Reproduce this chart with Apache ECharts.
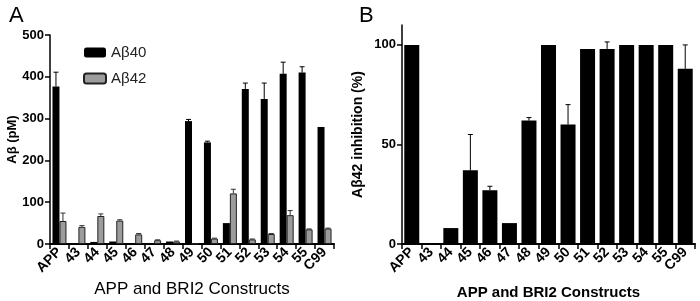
<!DOCTYPE html>
<html>
<head>
<meta charset="utf-8">
<script src="https://cdn.jsdelivr.net/npm/echarts@6/dist/echarts.min.js"></script>
<style>
	html, body { margin: 0; padding: 0; background: #fff; }
	#chart { width: 700px; height: 301px; }
</style>
</head>
<body>
<div id="chart"></div>
<script>
// 类别
const constructs = ['APP', '43', '44', '45', '46', '47', '48', '49', '50', '51', '52', '53', '54', '55', 'C99']
// 面板 A：Aβ40 / Aβ42 (pM) 及误差
const ab40 = [377, 1, 5, 6, 1, 0, 6, 294, 243, 50, 371, 347, 407, 410, 280]
const ab40Err = [34, 0, 0, 0, 0, 0, 0, 4, 3, 0, 14, 38, 28, 14, 0]
const ab42 = [55, 41, 67, 56, 23, 9, 6, 1, 13, 121, 11, 24, 69, 35, 37]
const ab42Err = [19, 3, 5, 2, 2, 1, 1, 0, 1, 10, 1, 1, 11, 1, 1]
// 面板 B：Aβ42 抑制率 (%)
const inhibition = [100, 0, 8, 37, 27, 10.5, 62, 100, 60, 98, 98, 100, 100, 100, 88]
const inhibitionErr = [0, 0, 0, 18, 2, 0, 1.5, 0, 10, 0, 3.5, 0, 0, 0, 12]
// 刻度
const ticksA = [0, 100, 200, 300, 400, 500]
const ticksB = [0, 50, 100]

const font = 'Liberation Sans, Arial, sans-serif'

function errData(vals, errs) {
	const out = []
	vals.forEach((v, i) => {
		if (errs[i] > 0) out.push([i, v, v + errs[i]])
	})
	return out
}

// 误差线（只画上半部分）
function errRenderer(offset, color) {
	return function (params, api) {
		const top = api.coord([api.value(0), api.value(2)])
		const base = api.coord([api.value(0), api.value(1)])
		const x = top[0] + offset
		return {
			type: 'group',
			children: [
				{ type: 'line', shape: { x1: x, y1: base[1], x2: x, y2: top[1] }, style: { stroke: color, lineWidth: 1 } },
				{ type: 'line', shape: { x1: x - 2.5, y1: top[1], x2: x + 2.5, y2: top[1] }, style: { stroke: color, lineWidth: 1 } },
			],
		}
	}
}

const chart = echarts.init(document.getElementById('chart'))

const xAxisBase = {
	type: 'category',
	data: constructs,
	nameMoveOverlap: false,
	axisLine: { lineStyle: { color: '#000', width: 2 } },
	axisTick: { show: true, length: 5, lineStyle: { color: '#000', width: 1.5 } },
	axisLabel: { color: '#000', fontSize: 14, fontWeight: 'bold', fontFamily: font, rotate: 45, interval: 0, margin: 6 },
	nameLocation: 'middle',
}

const option = {
	animation: false,
	textStyle: { fontFamily: font },
	title: [
		{ text: 'A', left: 4, top: 0, textStyle: { fontSize: 22, fontWeight: 'normal', color: '#000', fontFamily: font } },
		{ text: 'B', left: 354, top: 0, textStyle: { fontSize: 22, fontWeight: 'normal', color: '#000', fontFamily: font } },
	],
	legend: {
		left: 78,
		top: 40,
		orient: 'vertical',
		itemWidth: 22,
		itemHeight: 10,
		itemGap: 11,
		data: ['Aβ40', 'Aβ42'],
		textStyle: { fontSize: 15, color: '#222', fontFamily: font },
	},
	grid: [
		{ left: 50, right: 366, top: 35, bottom: 57, outerBoundsMode: 'none' },
		{ left: 402, right: 5, top: 25, bottom: 57, outerBoundsMode: 'none' },
	],
	xAxis: [
		Object.assign({}, xAxisBase, {
			gridIndex: 0,
			name: 'APP and BRI2 Constructs',
			nameGap: 37,
			nameTextStyle: { fontSize: 17, color: '#000', fontFamily: font },
		}),
		Object.assign({}, xAxisBase, {
			gridIndex: 1,
			name: 'APP and BRI2 Constructs',
			nameGap: 41,
			nameTextStyle: { fontSize: 15, fontWeight: 'bold', color: '#000', fontFamily: font },
		}),
	],
	yAxis: [
		{
			type: 'value',
			gridIndex: 0,
			min: 0,
			max: 500,
			interval: 100,
			name: 'Aβ (pM)',
			nameLocation: 'middle',
			nameGap: 31,
			nameMoveOverlap: false,
			nameTextStyle: { fontSize: 13, fontWeight: 'bold', color: '#000', fontFamily: font },
			axisLine: { show: true, lineStyle: { color: '#000', width: 1.5 } },
			axisTick: { show: true, length: 5, lineStyle: { color: '#000', width: 1.5 } },
			splitLine: { show: false },
			axisLabel: { color: '#000', fontSize: 13, fontWeight: 'bold', fontFamily: font, margin: 6, customValues: ticksA },
		},
		{
			type: 'value',
			gridIndex: 1,
			min: 0,
			max: 110,
			interval: 50,
			name: 'Aβ42 inhibition (%)',
			nameLocation: 'middle',
			nameGap: 37,
			nameMoveOverlap: false,
			nameTextStyle: { fontSize: 14, fontWeight: 'bold', color: '#000', fontFamily: font },
			axisLine: { show: true, lineStyle: { color: '#000', width: 1.5 } },
			axisTick: { show: true, length: 5, lineStyle: { color: '#000', width: 1.5 }, customValues: ticksB },
			splitLine: { show: false },
			axisLabel: { color: '#000', fontSize: 13, fontWeight: 'bold', fontFamily: font, margin: 6, customValues: ticksB },
		},
	],
	series: [
		{
			type: 'bar',
			name: 'Aβ40',
			xAxisIndex: 0,
			yAxisIndex: 0,
			barWidth: 7,
			barGap: '0%',
			data: ab40,
			itemStyle: { color: '#000' },
		},
		{
			type: 'bar',
			name: 'Aβ42',
			xAxisIndex: 0,
			yAxisIndex: 0,
			barWidth: 7,
			barGap: '0%',
			data: ab42,
			itemStyle: { color: '#9c9c9c', borderColor: '#222', borderWidth: 1 },
		},
		{
			type: 'custom',
			xAxisIndex: 0,
			yAxisIndex: 0,
			renderItem: errRenderer(-3.5, '#000'),
			data: errData(ab40, ab40Err),
			z: 3,
		},
		{
			type: 'custom',
			xAxisIndex: 0,
			yAxisIndex: 0,
			renderItem: errRenderer(3.5, '#333'),
			data: errData(ab42, ab42Err),
			z: 3,
		},
		{
			type: 'bar',
			name: 'inhibition',
			xAxisIndex: 1,
			yAxisIndex: 1,
			barWidth: 15,
			data: inhibition,
			itemStyle: { color: '#000' },
		},
		{
			type: 'custom',
			xAxisIndex: 1,
			yAxisIndex: 1,
			renderItem: errRenderer(0, '#000'),
			data: errData(inhibition, inhibitionErr),
			z: 3,
		},
	],
}

chart.setOption(option)
</script>
</body>
</html>
